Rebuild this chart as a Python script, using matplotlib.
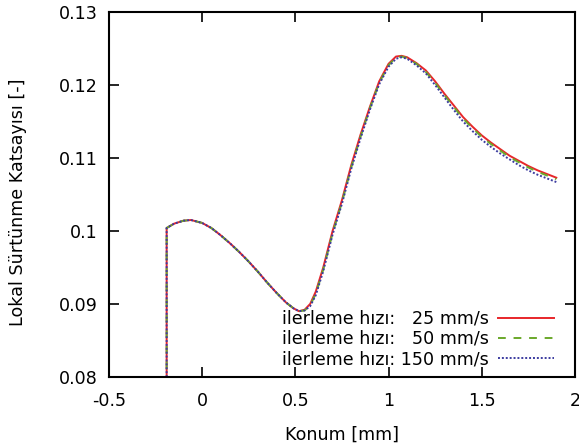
import matplotlib
matplotlib.use("Agg")
import matplotlib.pyplot as plt

# Position along the contact [mm]
konum = [-0.19, -0.19, -0.15, -0.10, -0.06, 0.00, 0.05, 0.10, 0.15, 0.20, 0.25,
         0.30, 0.35, 0.40, 0.45, 0.49, 0.52, 0.55, 0.58, 0.61, 0.65, 0.70, 0.75,
         0.80, 0.85, 0.90, 0.95, 1.00, 1.04, 1.07, 1.10, 1.15, 1.20, 1.25,
         1.30, 1.35, 1.40, 1.45, 1.50, 1.55, 1.60, 1.65, 1.70, 1.75, 1.80,
         1.85, 1.90]

# Local friction coefficient for each feed rate
cf_25 = [0.070, 0.1004, 0.1010, 0.1014, 0.1015, 0.1011, 0.1004, 0.0994, 0.0983,
         0.0971, 0.0958, 0.0944, 0.0929, 0.0915, 0.0902, 0.0894, 0.0890, 0.0892,
         0.0900, 0.0917, 0.0950, 0.1000, 0.1042, 0.1090, 0.1132, 0.1170, 0.1205,
         0.1229, 0.1239, 0.1240, 0.1238, 0.1230, 0.1220, 0.1205, 0.1188, 0.1172,
         0.1156, 0.1143, 0.1131, 0.1121, 0.1112, 0.1103, 0.1096, 0.1089, 0.1083,
         0.1078, 0.1073]
cf_50 = [0.070, 0.1004, 0.1010, 0.1014, 0.1015, 0.1011, 0.1004, 0.0994, 0.0983,
         0.0971, 0.0958, 0.0944, 0.0929, 0.0915, 0.0902, 0.0894, 0.0890, 0.0891,
         0.0898, 0.0914, 0.0947, 0.0997, 0.1039, 0.1087, 0.1129, 0.1168, 0.1203,
         0.1227, 0.1238, 0.1239, 0.1237, 0.1229, 0.1218, 0.1203, 0.1186, 0.1170,
         0.1154, 0.1141, 0.1129, 0.1119, 0.1110, 0.1101, 0.1094, 0.1087, 0.1081,
         0.1076, 0.1071]
cf_150 = [0.070, 0.1004, 0.1010, 0.1014, 0.1015, 0.1011, 0.1004, 0.0994, 0.0983,
          0.0971, 0.0958, 0.0944, 0.0929, 0.0915, 0.0902, 0.0894, 0.0890, 0.0891,
          0.0897, 0.0912, 0.0945, 0.0995, 0.1037, 0.1085, 0.1127, 0.1166, 0.1201,
          0.1225, 0.1236, 0.1238, 0.1236, 0.1227, 0.1216, 0.1200, 0.1183, 0.1166,
          0.1150, 0.1137, 0.1125, 0.1115, 0.1106, 0.1098, 0.1090, 0.1083, 0.1077,
          0.1072, 0.1067]

labels = ["ilerleme hızı:   25 mm/s",
          "ilerleme hızı:   50 mm/s",
          "ilerleme hızı: 150 mm/s"]
x_ticks = [-0.5, 0, 0.5, 1, 1.5, 2]
x_tick_labels = ["-0.5", "0", "0.5", "1", "1.5", "2"]
y_ticks = [0.08, 0.09, 0.10, 0.11, 0.12, 0.13]
y_tick_labels = ["0.08", "0.09", "0.1", "0.11", "0.12", "0.13"]

plt.rcParams["font.family"] = ["DejaVu Sans"]
FS = 12.6

fig = plt.figure(figsize=(5.79, 4.46), dpi=100)
ax = fig.add_axes([0.188, 0.155, 0.805, 0.818])

ax.plot(konum, cf_25, color="#e8262a", lw=1.4, ls="-", label=labels[0])
ax.plot(konum, cf_50, color="#6aa82a", lw=1.4, ls=(0, (4, 4)), label=labels[1])
ax.plot(konum, cf_150, color="#3c3ca0", lw=1.4, ls=(0, (1, 1)), label=labels[2])

ax.set_xlim(-0.5, 2)
ax.set_ylim(0.08, 0.13)
ax.set_xticks(x_ticks)
ax.set_xticklabels(x_tick_labels)
ax.set_yticks(y_ticks)
ax.set_yticklabels(y_tick_labels)

ax.tick_params(direction="in", length=7, width=1.2, top=True, right=True,
               labelsize=FS)
ax.tick_params(axis="x", pad=11)
ax.tick_params(axis="y", pad=8)
for s in ax.spines.values():
    s.set_linewidth(1.5)

ax.set_xlabel("Konum [mm]", fontsize=FS, labelpad=11)
ax.set_ylabel("Lokal Sürtünme Katsayısı [-]", fontsize=FS)
ax.yaxis.set_label_coords(-0.176, 0.479)

leg = ax.legend(loc="lower right", markerfirst=False, frameon=False,
                fontsize=FS, handlelength=3.2, handletextpad=0.5,
                labelspacing=0.12, borderaxespad=0.0,
                bbox_to_anchor=(0.97, 0.005))
for t in leg.get_texts():
    t.set_ha("left")

fig.savefig("out.png", dpi=100, facecolor="white")
